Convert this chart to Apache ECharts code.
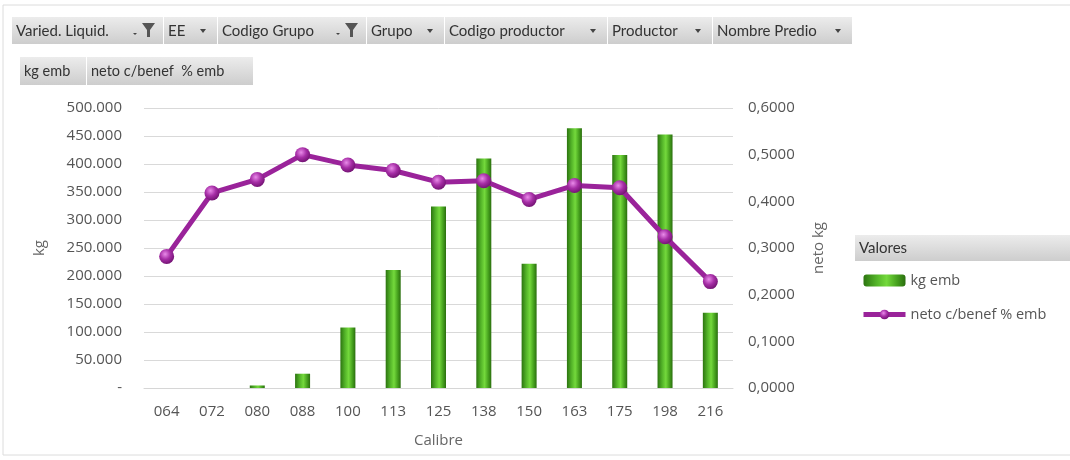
<!DOCTYPE html>
<html>
<head>
<meta charset="utf-8">
<script src="https://cdn.jsdelivr.net/npm/echarts@6/dist/echarts.min.js"></script>
<style>
html,body{margin:0;padding:0;background:#fff;}
#c{width:1070px;height:460px;}
</style>
</head>
<body>
<div id="c"></div>
<script>
// ---- data ----
const categories = ['064','072','080','088','100','113','125','138','150','163','175','198','216'];
const kgEmb = [0, 0, 4500, 25500, 108000, 210500, 324000, 410000, 222000, 464000, 416000, 452500, 134500];
const netoPct = [0.282, 0.418, 0.447, 0.500, 0.478, 0.466, 0.441, 0.444, 0.404, 0.434, 0.429, 0.324, 0.228];
const seriesNames = ['kg emb', 'neto c/benef % emb'];
const filterLabels = ['Varied. Liquid.', 'EE', 'Codigo Grupo', 'Grupo', 'Codigo productor', 'Productor', 'Nombre Predio'];
const valueLabels = ['kg emb', 'neto c/benef  % emb'];

const FONT = 'Lato, "Open Sans", sans-serif';
const AFONT = '"Open Sans", Lato, sans-serif';
const chart = echarts.init(document.getElementById('c'), null, {renderer: 'canvas'});

const btnGrad = new echarts.graphic.LinearGradient(0, 0, 0, 1, [
  {offset: 0, color: '#ececec'}, {offset: 1, color: '#cdcdcd'}
]);

// filter buttons layout [x0, x1, icon]
const filterBoxes = [[12,163,'f'],[164,217,'a'],[218,366,'f'],[367,444,'a'],[445,607,'a'],[608,712,'a'],[713,852,'a']];
const valueBoxes = [[20,86],[87,253]];

const graphics = [];
graphics.push({type:'rect', shape:{x:3,y:5,width:1080,height:450}, style:{fill:'none', stroke:'#dcdcdc', lineWidth:1}, z:-1});
filterBoxes.forEach((b, i) => {
  graphics.push({type:'rect', shape:{x:b[0], y:17, width:b[1]-b[0], height:27}, style:{fill:btnGrad}});
  graphics.push({type:'text', x:b[0]+4, y:31, style:{text:filterLabels[i], font:'15px ' + FONT, fill:'#333', textVerticalAlign:'middle'}});
  if (b[2] === 'a') {
    graphics.push({type:'polygon', shape:{points:[[b[1]-17,29],[b[1]-11,29],[b[1]-14,33]]}, style:{fill:'#444'}});
  } else {
    graphics.push({type:'polygon', shape:{points:[[b[1]-30,33],[b[1]-26,33],[b[1]-28,35]]}, style:{fill:'#444'}});
    graphics.push({type:'polygon', shape:{points:[[b[1]-21,23],[b[1]-8,23],[b[1]-13,30],[b[1]-13,37],[b[1]-16,37],[b[1]-16,30]]}, style:{fill:'#555'}});
  }
});
valueBoxes.forEach((b, i) => {
  graphics.push({type:'rect', shape:{x:b[0], y:57, width:b[1]-b[0], height:28}, style:{fill:btnGrad}});
  graphics.push({type:'text', x:b[0]+4, y:71, style:{text:valueLabels[i], font:'14.5px ' + FONT, fill:'#333', textVerticalAlign:'middle'}});
});
// legend header
graphics.push({type:'rect', shape:{x:855, y:235, width:215, height:26}, style:{fill:btnGrad}});
graphics.push({type:'text', x:859, y:248, style:{text:'Valores', font:'15px ' + FONT, fill:'#333', textVerticalAlign:'middle'}});

const barGrad = new echarts.graphic.LinearGradient(0, 0, 1, 0, [
  {offset: 0, color: '#2c7410'},
  {offset: 0.3, color: '#52b228'},
  {offset: 0.55, color: '#74d93c'},
  {offset: 0.8, color: '#46a11e'},
  {offset: 1, color: '#2a6e0e'}
]);
const dotGrad = new echarts.graphic.RadialGradient(0.4, 0.35, 0.7, [
  {offset: 0, color: '#e98ae9'},
  {offset: 0.5, color: '#a62ea6'},
  {offset: 1, color: '#6e106e'}
]);

const leftFmt = v => v === 0 ? '-' : v.toLocaleString('de-DE');
const rightFmt = v => v.toFixed(4).replace('.', ',');

chart.setOption({
  animation: false,
  backgroundColor: '#fff',
  textStyle: {fontFamily: AFONT},
  grid: {left: 144, right: 337, top: 108, bottom: 72, containLabel: false},
  legend: {
    orient: 'vertical', left: 856, top: 268, itemGap: 19, itemWidth: 42, itemHeight: 12,
    textStyle: {fontSize: 14.5, color: '#555', fontFamily: AFONT},
    data: [
      {name: seriesNames[0]},
      {name: seriesNames[1], lineStyle: {width: 5, color: '#9a239a'}}
    ]
  },
  graphic: graphics,
  xAxis: {
    type: 'category', data: categories,
    name: 'Calibre', nameLocation: 'middle', nameGap: 45,
    nameTextStyle: {fontSize: 15, color: '#666', fontFamily: AFONT},
    axisLine: {lineStyle: {color: '#d6d6d6'}},
    axisTick: {show: false},
    axisLabel: {fontSize: 15, color: '#555', margin: 16, fontFamily: AFONT}
  },
  yAxis: [
    {
      type: 'value', min: 0, max: 500000, interval: 50000,
      name: 'kg', nameLocation: 'middle', nameGap: 97, nameRotate: 90,
      nameTextStyle: {fontSize: 15, color: '#666', fontFamily: AFONT},
      axisLine: {show: false}, axisTick: {show: false},
      axisLabel: {fontSize: 15, color: '#555', margin: 22, formatter: leftFmt, fontFamily: AFONT},
      splitLine: {lineStyle: {color: '#d9d9d9'}}
    },
    {
      type: 'value', min: 0, max: 0.6, interval: 0.1, position: 'right',
      name: 'neto kg', nameLocation: 'middle', nameGap: 78, nameRotate: 90,
      nameTextStyle: {fontSize: 15, color: '#666', fontFamily: AFONT},
      axisLine: {show: false}, axisTick: {show: false},
      axisLabel: {fontSize: 15, color: '#555', margin: 15, formatter: rightFmt, fontFamily: AFONT},
      splitLine: {show: false}
    }
  ],
  series: [
    {
      name: seriesNames[0], type: 'bar', yAxisIndex: 0, data: kgEmb,
      barWidth: 15,
      itemStyle: {color: barGrad}
    },
    {
      name: seriesNames[1], type: 'line', yAxisIndex: 1, data: netoPct,
      symbol: 'circle', symbolSize: 15,
      lineStyle: {color: '#9a239a', width: 5},
      itemStyle: {color: dotGrad, borderWidth: 0},
      z: 3
    }
  ]
});
</script>
</body>
</html>
